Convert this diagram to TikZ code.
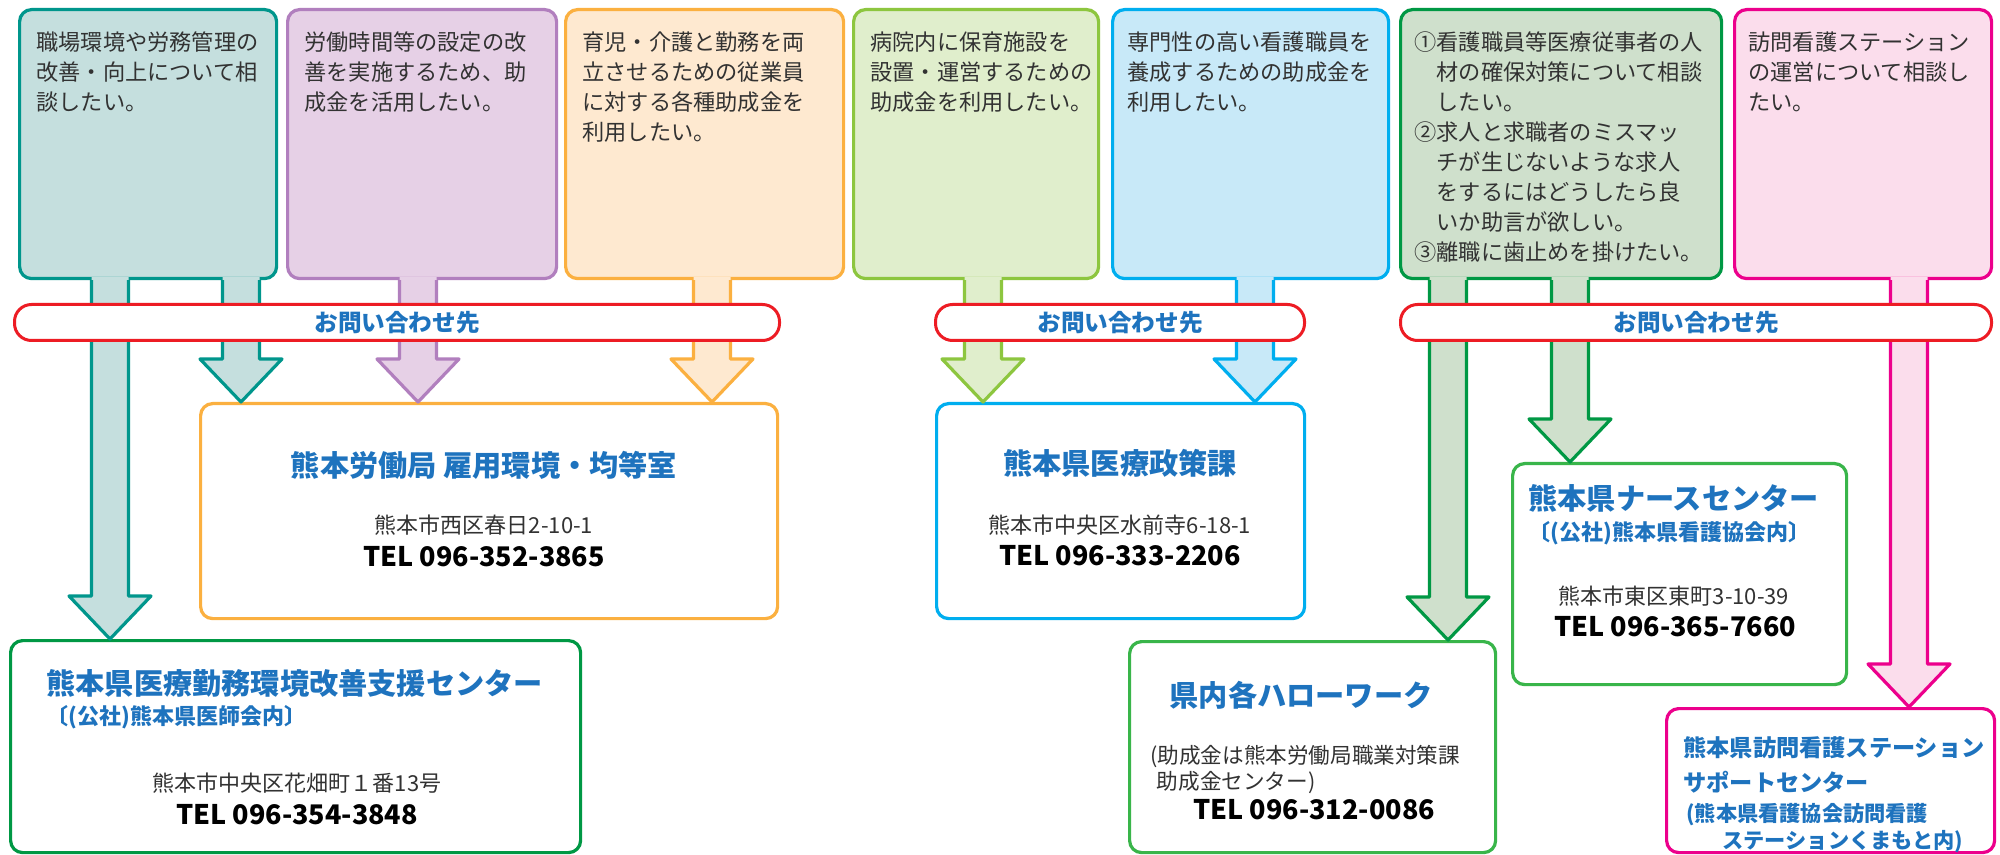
\documentclass[tikz,border=0pt]{standalone}
\usepackage{fontspec}
\setmainfont{Noto Sans CJK JP}
\usepackage{tikz}
\usetikzlibrary{calc, positioning}

% colours
\definecolor{tealLine}{RGB}{0,150,140}
\definecolor{tealFill}{RGB}{197,223,222}
\definecolor{purpleLine}{RGB}{177,127,190}
\definecolor{purpleFill}{RGB}{230,208,230}
\definecolor{orangeLine}{RGB}{251,176,64}
\definecolor{orangeFill}{RGB}{254,233,208}
\definecolor{lgreenLine}{RGB}{141,198,63}
\definecolor{lgreenFill}{RGB}{224,238,204}
\definecolor{skyLine}{RGB}{0,174,239}
\definecolor{skyFill}{RGB}{200,233,248}
\definecolor{greenLine}{RGB}{0,152,68}
\definecolor{greenFill}{RGB}{207,224,204}
\definecolor{pinkLine}{RGB}{236,0,140}
\definecolor{pinkFill}{RGB}{251,221,236}
\definecolor{brightGreen}{RGB}{57,181,74}
\definecolor{bannerRed}{RGB}{237,28,36}
\definecolor{titleBlue}{RGB}{30,115,190}
\definecolor{textGray}{RGB}{50,50,50}

\tikzset{
qbox/.style={
    rectangle,
    rounded corners=6pt,
    line width=1.6pt,
    anchor=north west,
    inner sep=0pt,
    minimum height=134.5pt
},
qtext/.style={
    align=left,
    inner sep=0pt,
    text=textGray,
    font=\fontsize{11.1pt}{15pt}\selectfont
},
dbox/.style={
    rectangle,
    rounded corners=6pt,
    line width=1.6pt,
    fill=white,
    anchor=north west,
    inner sep=0pt
},
banner/.style={
    rectangle,
    rounded corners=8.5pt,
    draw=bannerRed,
    line width=1.5pt,
    fill=white,
    anchor=north west,
    inner sep=0pt,
    minimum height=18pt,
    text=titleBlue,
    font=\bfseries\fontsize{11.8pt}{14pt}\selectfont
},
dtitle/.style={inner sep=0pt, text=titleBlue, font=\bfseries\fontsize{14.6pt}{17pt}\selectfont},
dsub/.style={inner sep=0pt, text=titleBlue, font=\bfseries\fontsize{11pt}{14pt}\selectfont},
daddr/.style={inner sep=0pt, text=textGray, font=\fontsize{11pt}{13pt}\selectfont},
dtel/.style={inner sep=0pt, text=black, font=\bfseries\fontsize{13.5pt}{16pt}\selectfont}
}

% block arrow: #1 colour, #2 stem centre (px), #3 from, #4 to
\newcommand{\bigarrow}[4]{%
  \fill[#1Fill] let \p1=(#3.south), \p2=(#4.north) in
    ({#2*0.5pt-9.25pt},{\y1+1.5pt}) -- ({#2*0.5pt-9.25pt},{\y2+21.5pt})
    -- ({#2*0.5pt-20.5pt},{\y2+21.5pt}) -- ({#2*0.5pt},\y2)
    -- ({#2*0.5pt+20.5pt},{\y2+21.5pt}) -- ({#2*0.5pt+9.25pt},{\y2+21.5pt})
    -- ({#2*0.5pt+9.25pt},{\y1+1.5pt}) -- cycle;
  \draw[#1Line, line width=1.6pt, line join=round] let \p1=(#3.south), \p2=(#4.north) in
    ({#2*0.5pt-9.25pt},\y1) -- ({#2*0.5pt-9.25pt},{\y2+21.5pt})
    -- ({#2*0.5pt-20.5pt},{\y2+21.5pt}) -- ({#2*0.5pt},\y2)
    -- ({#2*0.5pt+20.5pt},{\y2+21.5pt}) -- ({#2*0.5pt+9.25pt},{\y2+21.5pt})
    -- ({#2*0.5pt+9.25pt},\y1);
}

\begin{document}
\begin{tikzpicture}[x=0.5pt, y=-0.5pt]
    \fill[white] (0,0) rectangle (2000,854);

    % question boxes
    \node[qbox, draw=tealLine, fill=tealFill, minimum width=128.5pt] (q1) at (18,8) {};
    \node[qbox, draw=purpleLine, fill=purpleFill, minimum width=134.5pt] (q2) at (286,8) {};
    \node[qbox, draw=orangeLine, fill=orangeFill, minimum width=139pt] (q3) at (564,8) {};
    \node[qbox, draw=lgreenLine, fill=lgreenFill, minimum width=122.5pt] (q4) at (852,8) {};
    \node[qbox, draw=skyLine, fill=skyFill, minimum width=138pt] (q5) at (1111,8) {};
    \node[qbox, draw=greenLine, fill=greenFill, minimum width=160.5pt] (q6) at (1399,8) {};
    \node[qbox, draw=pinkLine, fill=pinkFill, minimum width=128.5pt] (q7) at (1733,8) {};

    \node[qtext, below right=11.5pt and 9pt of q1.north west] (q1t)
        {職場環境や労務管理の\\改善・向上について相\\談したい。};
    \node[qtext, below right=11.5pt and 9pt of q2.north west] (q2t)
        {労働時間等の設定の改\\善を実施するため、助\\成金を活用したい。};
    \node[qtext, below right=11.5pt and 9pt of q3.north west] (q3t)
        {育児・介護と勤務を両\\立させるための従業員\\に対する各種助成金を\\利用したい。};
    \node[qtext, below right=11.5pt and 9pt of q4.north west] (q4t)
        {病院内に保育施設を\\設置・運営するための\\助成金を利用したい。};
    \node[qtext, below right=11.5pt and 8pt of q5.north west] (q5t)
        {専門性の高い看護職員を\\養成するための助成金を\\利用したい。};
    \node[qtext, below right=11.5pt and 7.5pt of q6.north west] (q6t)
        {①看護職員等医療従事者の人\\\hspace*{1em}材の確保対策について相談\\\hspace*{1em}したい。\\
         ②求人と求職者のミスマッ\\\hspace*{1em}チが生じないような求人\\\hspace*{1em}をするにはどうしたら良\\
         \hspace*{1em}いか助言が欲しい。\\③離職に歯止めを掛けたい。};
    \node[qtext, below right=11.5pt and 7.5pt of q7.north west] (q7t)
        {訪問看護ステーション\\の運営について相談し\\たい。};

    % contact boxes
    \node[dbox, draw=orangeLine, minimum width=288.5pt, minimum height=107.5pt] (labour) at (199,402) {};
    \node[dbox, draw=greenLine, minimum width=285pt, minimum height=106pt] (mcenter) at (9,639) {};
    \node[dbox, draw=skyLine, minimum width=184pt, minimum height=107.5pt] (policy) at (935,402) {};
    \node[dbox, draw=brightGreen, minimum width=183pt, minimum height=105.5pt] (hwork) at (1128,640) {};
    \node[dbox, draw=brightGreen, minimum width=167pt, minimum height=110.5pt] (nurse) at (1511,462) {};
    \node[dbox, draw=pinkLine, minimum width=164pt, minimum height=72pt] (station) at (1665,707) {};

    % arrows
    \bigarrow{teal}{110}{q1}{mcenter}
    \bigarrow{teal}{241}{q1}{labour}
    \bigarrow{purple}{418}{q2}{labour}
    \bigarrow{orange}{712}{q3}{labour}
    \bigarrow{lgreen}{983}{q4}{policy}
    \bigarrow{sky}{1255}{q5}{policy}
    \bigarrow{green}{1448}{q6}{hwork}
    \bigarrow{green}{1570}{q6}{nurse}
    \bigarrow{pink}{1909}{q7}{station}

    % contact banners
    \node[banner, minimum width=382.5pt] (ask1) at (13,303) {お問い合わせ先};
    \node[banner, minimum width=184.5pt] (ask2) at (934,303) {お問い合わせ先};
    \node[banner, minimum width=295.5pt] (ask3) at (1399,303) {お問い合わせ先};

    % contact texts
    \node[dtitle] (labour-t) at (484,465) {熊本労働局 雇用環境・均等室};
    \node[daddr] (labour-a) at (484,525) {熊本市西区春日2-10-1};
    \node[dtel] (labour-tel) at (484,557) {TEL 096-352-3865};

    \node[dtitle, anchor=west] (mcenter-t) at (46,683) {熊本県医療勤務環境改善支援センター};
    \node[dsub, anchor=west] (mcenter-s) at (46,717) {〔(公社)熊本県医師会内〕};
    \node[daddr] (mcenter-a) at (297,783) {熊本市中央区花畑町１番13号};
    \node[dtel] (mcenter-tel) at (297,815) {TEL 096-354-3848};

    \node[dtitle] (policy-t) at (1120,463) {熊本県医療政策課};
    \node[daddr] (policy-a) at (1120,525) {熊本市中央区水前寺6-18-1};
    \node[dtel] (policy-tel) at (1120,556) {TEL 096-333-2206};

    \node[dtitle] (hwork-t) at (1301,695) {県内各ハローワーク};
    \node[daddr, anchor=west, align=left, font=\fontsize{10.8pt}{13pt}\selectfont] (hwork-n) at (1150,769)
        {(助成金は熊本労働局職業対策課\\\hspace*{0.3em}助成金センター)};
    \node[dtel] (hwork-tel) at (1314,810) {TEL 096-312-0086};

    \node[dtitle, anchor=west] (nurse-t) at (1528,498) {熊本県ナースセンター};
    \node[dsub, anchor=west] (nurse-s) at (1528,533) {〔(公社)熊本県看護協会内〕};
    \node[daddr] (nurse-a) at (1674,596) {熊本市東区東町3-10-39};
    \node[dtel] (nurse-tel) at (1675,627) {TEL 096-365-7660};

    \node[dtitle, anchor=west, align=left, font=\bfseries\fontsize{11.6pt}{17.5pt}\selectfont] (station-t) at (1683,765)
        {熊本県訪問看護ステーション\\サポートセンター};
    \node[dsub, anchor=west, align=left, font=\bfseries\fontsize{10.6pt}{13.5pt}\selectfont] (station-s) at (1686,828)
        {(熊本県看護協会訪問看護\\\hspace*{1.7em}ステーションくまもと内)};
\end{tikzpicture}
\end{document}
